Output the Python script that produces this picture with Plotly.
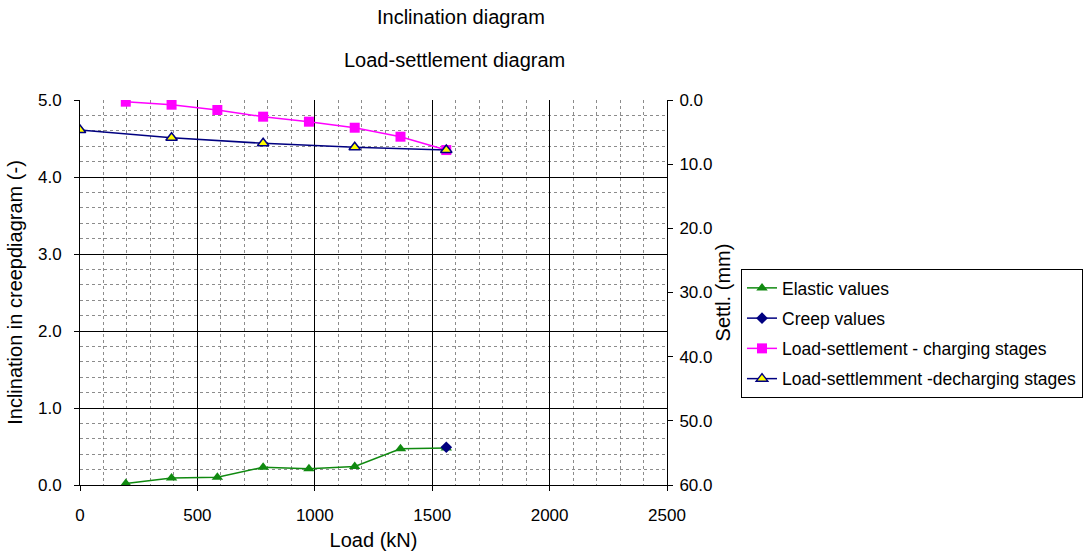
import plotly.graph_objects as go

# ---- data ----
loads = [195, 390, 585, 780, 975, 1170, 1365, 1560]
elastic_values = [0.02, 0.09, 0.10, 0.23, 0.21, 0.24, 0.47, 0.48]
creep_loads = [1560]
creep_values = [0.49]
charging_settl = [0.26, 0.73, 1.56, 2.60, 3.38, 4.32, 5.72, 7.80]
decharging_loads = [1560, 1170, 780, 390, 0]
decharging_settl = [7.80, 7.37, 6.75, 5.88, 4.68]

FONT = "Liberation Sans, Arial, sans-serif"

fig = go.Figure()
fig.add_trace(go.Scatter(
    x=loads, y=elastic_values, name="Elastic values", mode="lines+markers",
    line=dict(color="#108a10", width=1.5),
    marker=dict(symbol="triangle-up", size=10, color="#108a10"),
    legendgroup="a"))
fig.add_trace(go.Scatter(
    x=creep_loads, y=creep_values, name="Creep values", mode="lines+markers",
    line=dict(color="#000080", width=1.5),
    marker=dict(symbol="diamond", size=9, color="#000080"),
    legendgroup="b"))
fig.add_trace(go.Scatter(
    x=loads, y=charging_settl, name="Load-settlement - charging stages",
    mode="lines+markers", yaxis="y2",
    line=dict(color="#ff00ff", width=1.5),
    marker=dict(symbol="square", size=10, color="#ff00ff"),
    legendgroup="c"))
fig.add_trace(go.Scatter(
    x=decharging_loads, y=decharging_settl,
    name="Load-settlemment -decharging stages",
    mode="lines+markers", yaxis="y2",
    line=dict(color="#000080", width=1.5),
    marker=dict(symbol="triangle-up", size=10, color="#ffff00",
                line=dict(color="#000080", width=1.5)),
    legendgroup="d"))

L, R, T, B = 80, 416, 100, 70
W, H = 1083, 555
pw = W - L - R
ph = H - T - B

def px_x(p):
    return (p - L) / pw

def px_y(p):
    return (H - B - p) / ph

fig.update_layout(
    width=W, height=H,
    margin=dict(l=L, r=R, t=T, b=B, autoexpand=False),
    paper_bgcolor="white", plot_bgcolor="white",
    font=dict(family=FONT, size=17, color="black"),
    showlegend=True,
    legend=dict(
        x=px_x(741), y=px_y(269), xanchor="left", yanchor="top",
        bordercolor="black", borderwidth=1, bgcolor="white",
        font=dict(family=FONT, size=17.5, color="black"),
        itemwidth=30, tracegroupgap=4.5,
    ),
    xaxis=dict(
        range=[0, 2500], dtick=500, tick0=0,
        showgrid=True, gridcolor="black", gridwidth=1,
        minor=dict(dtick=100, showgrid=True, gridcolor="#8c8c8c",
                   griddash="dot", gridwidth=1),
        showline=True, linecolor="black", linewidth=1,
        ticks="outside", ticklen=5, tickcolor="black",
        zeroline=False, ticklabelstandoff=10,
        title=dict(text="Load (kN)", font=dict(size=20), standoff=8),
        tickfont=dict(size=17),
    ),
    yaxis=dict(
        range=[0, 5], dtick=1, tick0=0, tickformat=".1f",
        showgrid=True, gridcolor="black", gridwidth=1,
        minor=dict(dtick=0.2, showgrid=True, gridcolor="#8c8c8c",
                   griddash="dot", gridwidth=1),
        showline=True, linecolor="black", linewidth=1,
        ticks="outside", ticklen=5, tickcolor="black",
        zeroline=False, ticklabelstandoff=9,
        title=dict(text="Inclination in creepdiagram (-)", font=dict(size=20),
                   standoff=9),
        tickfont=dict(size=17),
    ),
    yaxis2=dict(
        range=[60, 0], dtick=10, tick0=0, tickformat=".1f",
        overlaying="y", side="right",
        showgrid=False, zeroline=False,
        showline=True, linecolor="black", linewidth=1,
        ticks="outside", ticklen=5, tickcolor="black",
        ticklabelstandoff=3,
        title=dict(text="Settl. (mm)", font=dict(size=20), standoff=4),
        tickfont=dict(size=17),
    ),
    annotations=[
        dict(text="Inclination diagram", x=px_x(461), y=px_y(17),
             xref="paper", yref="paper", showarrow=False,
             xanchor="center", yanchor="middle", font=dict(size=20)),
        dict(text="Load-settlement diagram", x=px_x(454), y=px_y(60),
             xref="paper", yref="paper", showarrow=False,
             xanchor="center", yanchor="middle", font=dict(size=20)),
    ],
)

fig.write_html("out.html")
